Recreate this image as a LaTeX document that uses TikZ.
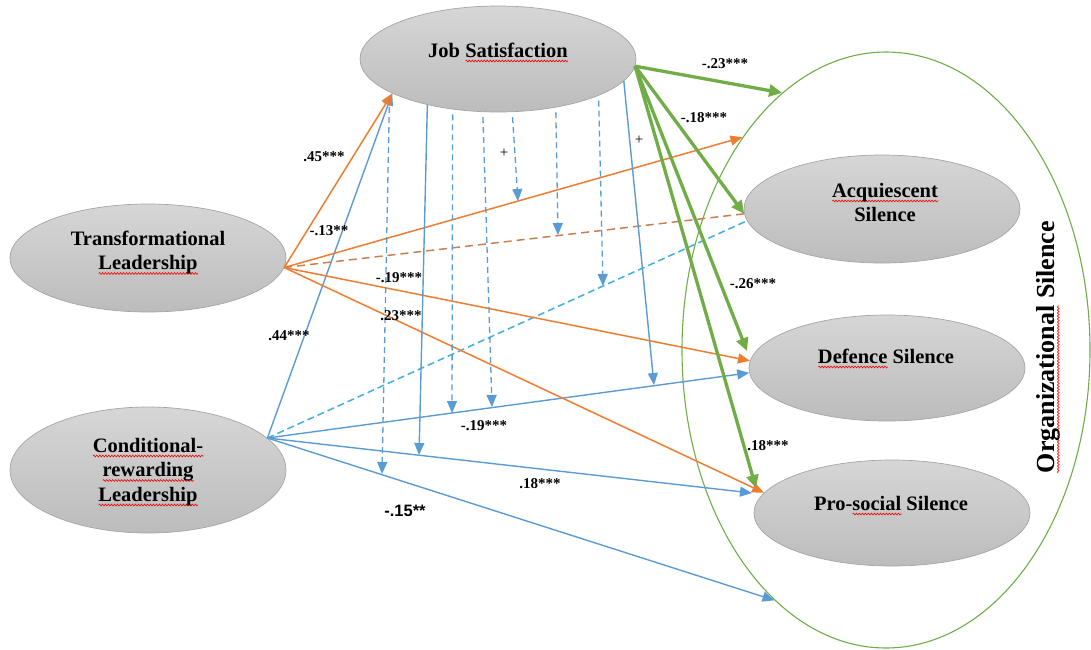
\documentclass[tikz,border=0pt]{standalone}
\usepackage{fontspec}
\setmainfont{Liberation Serif}
\newfontfamily\labsans{Liberation Sans}
\usetikzlibrary{arrows.meta,shapes.geometric,decorations.pathmorphing}
\newsavebox\wavebox
\newlength\wavewd
\newcommand\redwave[1]{\sbox\wavebox{#1}\setlength\wavewd{\wd\wavebox}\leavevmode\rlap{\raisebox{-4pt}{\tikz[baseline=0pt]\draw[red,line width=0.6pt,decorate,decoration={zigzag,amplitude=0.9pt,segment length=3pt}] (0pt,0pt) -- (\wavewd,0pt);}}\usebox\wavebox}
\newcommand\mystack[1]{\begin{tabular}[t]{@{}c@{}}#1\end{tabular}}
\definecolor{orng}{RGB}{237,125,49}
\definecolor{blu}{RGB}{91,155,213}
\definecolor{grn}{RGB}{112,173,71}
\definecolor{orngd}{RGB}{200,128,80}
\definecolor{cyn}{RGB}{64,174,224}
\definecolor{gtop}{RGB}{214,214,214}
\definecolor{gbot}{RGB}{188,188,188}
\definecolor{gedge}{RGB}{165,165,165}
\begin{document}
\begin{tikzpicture}[x=1pt,y=-1pt,
  varnode/.style={ellipse, draw=gedge, line width=0.7pt, top color=gtop, bottom color=gbot,
    minimum width=276pt, minimum height=106pt, inner sep=0pt},
  vtxt/.style={font=\fontsize{20.5}{24.5}\selectfont\bfseries, inner sep=0pt, anchor=base},
  lbl/.style={font=\fontsize{15}{18}\selectfont\bfseries, inner sep=0pt},
  plus/.style={font=\fontsize{15}{18}\selectfont, inner sep=0pt},
  smalltip/.style={-{Triangle[length=12pt,width=10pt]}},
  orline/.style={draw=orng, line width=1.5pt, smalltip},
  orndash/.style={draw=orngd, line width=1.5pt, dash pattern=on 8pt off 5pt},
  blline/.style={draw=blu, line width=1.4pt, smalltip},
  cydash/.style={draw=cyn, line width=1.5pt, dash pattern=on 7pt off 4pt},
  grline/.style={draw=grn, line width=3.3pt, -{Triangle[length=13pt,width=12pt]}},
  moddash/.style={draw=blu, line width=1.3pt, dash pattern=on 6pt off 4pt, shorten <=5pt, smalltip},
  modsolid/.style={draw=blu, line width=1.4pt, smalltip}
]
\useasboundingbox (0,0) rectangle (1091,649);

% outer construct
\node[ellipse, draw=grn, line width=1.1pt, minimum width=408pt, minimum height=596pt, inner sep=0pt] (os) at (886,350) {};

% variables
\node[varnode] (js) at (498,59) {};
\node[varnode, minimum height=108pt] (tl) at (148,258) {};
\node[varnode, minimum height=126pt] (cr) at (148,470) {};
\node[varnode, minimum height=108pt] (aq) at (882,209) {};
\node[varnode] (df) at (887,368) {};
\node[varnode] (ps) at (892,513) {};

\node[vtxt] (jst) at (498,57) {Job \redwave{Satisfaction}};
\node[vtxt] (tlt) at (148,245) {\mystack{Transformational\\\redwave{Leadership}}};
\node[vtxt] (crt) at (148,452) {\mystack{\redwave{Conditional-}\\\redwave{rewarding}\\\redwave{Leadership}}};
\node[vtxt] (aqt) at (885,197) {\mystack{\redwave{Acquiescent}\\Silence}};
\node[vtxt] (dft) at (886,363) {\redwave{Defence} Silence};
\node[vtxt] (pst) at (891,510) {Pro-\redwave{social} Silence};
\node[rotate=90, font=\fontsize{26}{30}\selectfont\bfseries, inner sep=0pt] (ost) at (1048,347) {\redwave{Organizational} Silence};

% free ends
\coordinate (dfg) at (747,351);
\coordinate (psg) at (756,488);
\coordinate (psb) at (752,493);
\coordinate (m1) at (382,474);
\coordinate (m2) at (419,455);
\coordinate (m3) at (452,413);
\coordinate (m4) at (492,407);
\coordinate (m5) at (518,201);
\coordinate (m6) at (558,235);
\coordinate (m7) at (603,286);
\coordinate (m8) at (654,385);

% conditional-rewarding paths
\draw[blline] (cr.15) -- (js.-162);
\draw[blline] (cr.15) -- (df.-178);
\draw[blline] (cr.15) -- (psb);
\draw[blline] (cr.15) -- (os.-114);
\draw[cydash] (cr.15) -- (aq.-175);

% transformational paths
\draw[orline] (tl.-4) -- (js.-162);
\draw[orline] (tl.-4) -- (os.124);
\draw[orndash] (tl.-4) -- (aq.-178);
\draw[orline] (tl.-4) -- (df.177);
\draw[orline] (tl.-4) -- (ps.171);

% moderation arrows
\draw[moddash] (js.-163) -- (m1);
\draw[modsolid] (js.-147) -- (m2);
\draw[moddash] (js.-132) -- (m3);
\draw[moddash] (js.-106) -- (m4);
\draw[moddash] (js.-75) -- (m5);
\draw[moddash] (js.-40) -- (m6);
\draw[moddash] (js.-20) -- (m7);
\draw[modsolid] (js.-10) -- (m8);

% job satisfaction paths
\draw[grline] (js.-3) -- (os.112);
\draw[grline] (js.-3) -- (aq.-178);
\draw[grline] (js.-3) -- (dfg);
\draw[grline] (js.-3) -- (psg);

% labels
\node[lbl] (l1) at (324,157) {.45***};
\node[lbl] (l2) at (329,231) {-.13**};
\node[lbl] (l3) at (399,278) {-.19***};
\node[lbl] (l4) at (401,316) {.23***};
\node[lbl] (l5) at (289,336) {.44***};
\node[font=\labsans\fontsize{16.5}{19}\selectfont\bfseries, inner sep=0pt] (l6) at (405,511) {-.15**};
\node[lbl] (l7) at (484,426) {-.19***};
\node[lbl] (l8) at (540,484) {.18***};
\node[lbl] (l9) at (725,64) {-.23***};
\node[lbl] (l10) at (704,118) {-.18***};
\node[lbl] (l11) at (753,284) {-.26***};
\node[lbl] (l12) at (768,446) {.18***};
\node[plus] (p1) at (504,153) {+};
\node[plus] (p2) at (639,140) {+};
\end{tikzpicture}
\end{document}
